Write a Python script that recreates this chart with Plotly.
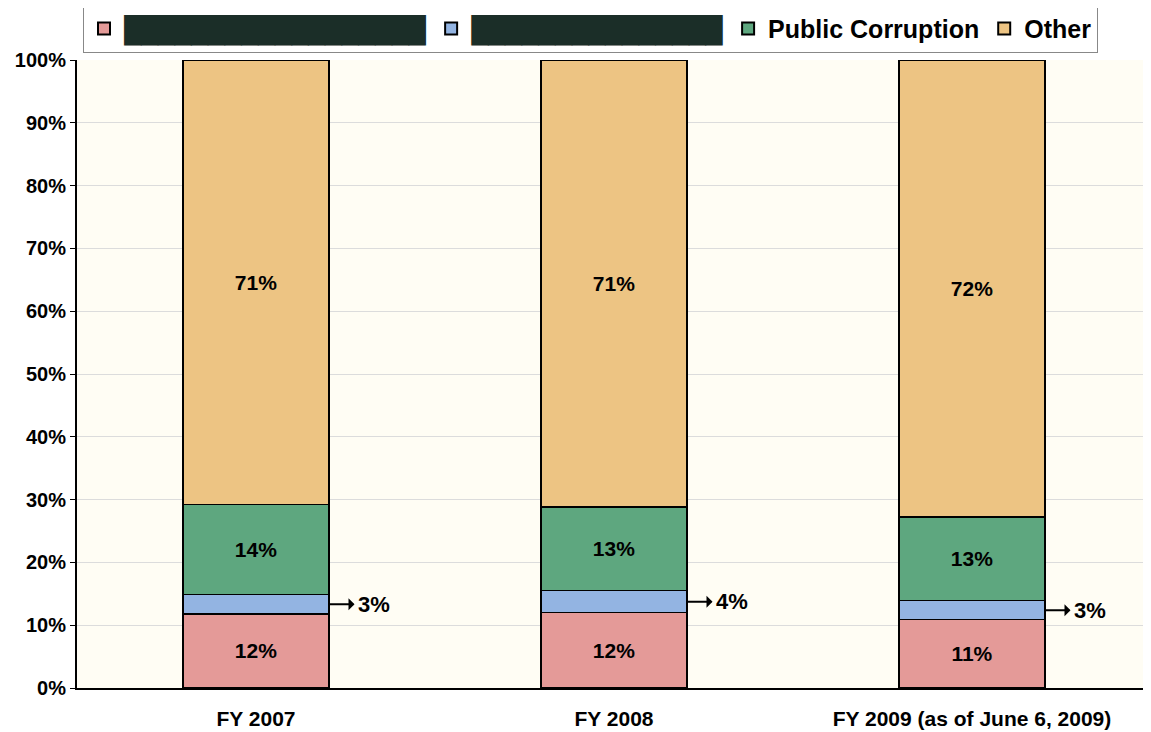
import plotly.graph_objects as go

# Anos fiscais (categorias)
anos = ['FY 2007', 'FY 2008', 'FY 2009 (as of June 6, 2009)']

# Percentuais (altura dos segmentos)
vermelho = [11.8, 12.0, 10.9]
azul = [3.1, 3.5, 3.0]
corrupcao = [14.3, 13.3, 13.3]
outros = [70.8, 71.2, 72.8]

# Rótulos exibidos
rot_vermelho = ['12%', '12%', '11%']
rot_azul = ['3%', '4%', '3%']
rot_corrupcao = ['14%', '13%', '13%']
rot_outros = ['71%', '71%', '72%']

# Nomes da legenda (os dois primeiros estão tarjados no original)
tarja = "<span style='color:#1b2e28;letter-spacing:-1px'>%s</span>"
nomes = [tarja % ('\u2588' * 18), tarja % ('\u2588' * 15), '<b>Public Corruption</b>', '<b>Other</b>']

cores = ['#e49a98', '#93b4e2', '#5ea77f', '#edc483']
largura = 0.408
x = list(range(len(anos)))

fig = go.Figure()
series = [(vermelho, rot_vermelho), (azul, None), (corrupcao, rot_corrupcao), (outros, rot_outros)]
for (vals, rot), nome, cor in zip(series, nomes, cores):
    fig.add_trace(go.Bar(
        x=x, y=vals, name=nome, width=largura,
        marker=dict(color=cor, line=dict(color='black', width=1.5)),
        text=['<b>%s</b>' % r for r in rot] if rot else None,
        textposition='inside' if rot else 'none',
        insidetextanchor='middle',
        textfont=dict(family='Liberation Sans', size=21, color='black'),
    ))

# Rótulos do segmento azul com seta para a direita
for i in x:
    meio = vermelho[i] + azul[i] / 2
    fig.add_annotation(
        x=i + largura / 2, y=meio, xref='x', yref='y',
        text='<b>%s</b>' % rot_azul[i], showarrow=True,
        ax=45, ay=0, arrowside='start', arrowhead=2, arrowsize=1,
        arrowwidth=2, arrowcolor='black', startstandoff=2,
        font=dict(family='Liberation Sans', size=22, color='black'),
    )

fig.update_layout(
    barmode='stack',
    width=1143, height=724,
    margin=dict(l=69, r=0, t=52, b=44, autoexpand=False),
    paper_bgcolor='white', plot_bgcolor='#fffdf4',
    font=dict(family='Liberation Sans', color='black'),
    uniformtext=dict(minsize=10, mode='show'),
    legend=dict(
        orientation='h', x=0.0056, y=1.088, xanchor='left', yanchor='top',
        bgcolor='white', bordercolor='#888888', borderwidth=1,
        font=dict(family='Liberation Sans', size=25, color='black'),
        traceorder='normal', itemsizing='constant',
    ),
    showlegend=True,
)
fig.update_xaxes(
    tickvals=x, ticktext=['<b>%s</b>' % a for a in anos], range=[-0.5, 2.5],
    tickfont=dict(size=21), showline=True, linecolor='black', linewidth=2,
    showgrid=False, ticks='', ticklabelstandoff=11,
)
fig.update_yaxes(
    range=[0, 100], tickvals=list(range(0, 101, 10)),
    ticktext=['<b>%d%%</b>' % v for v in range(0, 101, 10)],
    tickfont=dict(size=20), showline=True, linecolor='black', linewidth=2,
    gridcolor='#dcdcdc', gridwidth=1, ticks='outside', ticklen=5,
    tickcolor='black', zeroline=False,
)

fig.write_html('out.html')
